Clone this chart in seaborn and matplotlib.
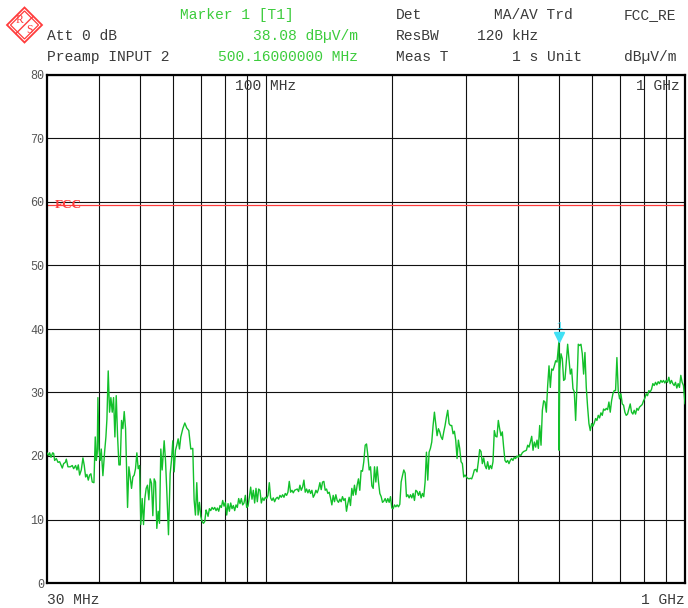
import matplotlib.pyplot as plt
import matplotlib.patches as mpatches
import matplotlib.lines as mlines
import matplotlib.transforms as mtransforms
from matplotlib.ticker import FixedLocator, NullLocator
import pandas as pd
import seaborn as sns

# Sweep (MHz, dBuV/m)
freq_mhz = [
    30.00, 30.28, 30.44, 30.67, 30.95, 31.12, 31.29, 31.58, 31.87, 32.16,
    32.40, 32.63, 32.87, 33.18, 33.36, 33.66, 34.10, 34.47, 34.73, 35.11,
    35.37, 35.63, 35.89, 36.22, 36.55, 36.82, 37.09, 37.36, 37.64, 37.91,
    38.19, 38.47, 38.83, 39.11, 39.33, 39.54, 39.69, 39.91, 40.20, 40.42,
    40.79, 41.17, 41.47, 41.70, 42.00, 42.31, 42.62, 42.94, 43.25, 43.57,
    43.89, 44.21, 44.54, 44.86, 45.19, 45.52, 45.86, 46.20, 46.71, 47.05,
    47.39, 47.74, 48.09, 48.45, 48.80, 49.16, 49.52, 49.89, 50.25, 50.62,
    50.99, 51.37, 51.74, 52.12, 52.51, 52.89, 53.28, 53.67, 54.07, 54.46,
    54.86, 55.27, 55.67, 56.08, 56.49, 57.12, 57.54, 57.96, 58.49, 59.03,
    59.46, 59.90, 60.34, 60.78, 61.23, 61.68, 62.13, 62.59, 63.28, 63.98,
    64.68, 65.40, 66.12, 66.85, 67.34, 67.83, 68.33, 68.83, 69.34, 69.85,
    70.36, 70.88, 71.40, 71.92,
    72.18, 72.71, 73.24, 73.78, 74.32, 74.87, 75.42, 75.97, 76.53, 77.09,
    77.66, 78.23, 78.80, 79.38, 79.96, 80.55, 81.14, 81.74, 82.34, 82.94,
    83.55, 84.16, 84.78, 85.40, 86.03, 86.66, 87.30, 87.94, 88.59, 89.24,
    89.89, 90.55, 91.22, 91.89, 92.56, 93.24, 93.93, 94.62, 95.31, 96.01,
    96.72, 97.43, 98.14, 98.86, 99.59, 100.32, 101.06, 101.80, 102.55, 103.30,
    104.06, 104.82, 105.59, 106.37, 107.15, 107.94, 108.73, 109.53, 110.33, 111.14,
    111.96, 112.78, 113.61, 114.44, 115.28, 116.13, 116.98, 117.84, 118.71, 119.58,
    120.46, 121.34, 122.23, 123.13, 124.03, 124.94, 125.86, 126.78, 127.71, 128.65,
    129.60, 130.55, 131.51, 132.47, 133.44, 134.42, 135.41, 136.40, 137.40, 138.41,
    139.43, 140.45, 141.48, 142.52, 143.57, 144.62, 145.68, 146.75, 147.83, 148.91,
    150.00, 151.10, 152.21, 153.33, 154.46, 155.59, 156.73, 157.88, 159.04, 160.21,
    161.39, 162.57, 163.76, 164.96, 166.17, 167.39, 168.62, 169.86, 171.11,
    172.44, 173.71, 174.98, 176.27, 177.56, 178.87, 180.18, 181.50, 182.84, 184.18,
    185.53, 186.89, 188.27, 189.65, 191.04, 192.45, 193.86, 195.28, 196.72, 198.16,
    199.62, 201.08, 202.56, 204.05, 205.54, 207.05, 208.57, 210.11, 211.65, 213.20,
    214.77, 216.35, 217.94, 219.54, 221.15, 222.77, 224.41, 226.06, 227.72, 229.39,
    231.07, 232.77, 234.48, 236.20, 237.93, 239.68, 241.44, 243.21, 245.00, 246.80,
    248.61, 250.44, 252.28, 254.13, 256.00, 257.88, 259.77, 261.68, 263.60, 265.54,
    267.49, 269.45, 271.43, 273.42, 275.43, 277.45, 279.49, 281.54, 283.61, 285.69,
    287.79, 289.90, 292.03, 294.17, 296.33, 298.51, 300.70, 302.91, 305.13, 307.37,
    309.63, 311.90, 314.19, 316.50, 318.82, 321.16, 323.52, 325.90, 328.29, 330.70,
    333.13, 335.58, 338.04, 340.52, 343.02, 345.54, 348.08, 350.63, 353.21, 355.80,
    358.41, 361.04, 363.69, 366.36, 369.05, 371.76, 374.49, 377.24, 380.01, 382.80,
    385.61, 388.44, 391.29, 394.16, 397.06, 399.97, 402.91, 405.87, 408.85, 411.85,
    418.19, 421.26, 424.35, 427.47, 430.61, 433.77, 436.96, 440.17, 443.40, 446.66,
    449.94, 453.24, 456.57, 459.92, 463.30, 466.70, 470.13, 473.58, 477.06, 480.56,
    484.09, 487.65, 491.23, 494.84, 500.16, 500.60, 502.13, 505.82, 509.53, 513.27,
    517.04, 520.84, 524.66, 528.51, 532.39, 536.30, 540.24, 544.21, 548.21, 552.23,
    556.29, 560.37, 564.49, 568.63, 572.81, 577.01, 581.25, 585.52, 589.82, 594.15,
    598.51, 602.91, 607.34, 611.80, 616.29, 620.82, 625.37, 629.97, 634.59, 639.25,
    643.95, 648.68, 653.44, 658.24, 663.07, 667.94, 672.85, 677.79, 682.77, 687.78,
    692.83, 697.92, 703.05, 708.21, 713.41, 718.65, 723.93, 729.24, 734.60, 739.99,
    745.43, 750.90, 756.42, 761.97, 767.57, 773.21, 778.88, 784.60, 790.37, 796.17,
    802.02, 807.91, 813.84, 819.82, 825.84, 831.90, 838.01, 844.17, 850.37, 856.61,
    862.90, 869.24, 875.62, 882.05, 888.53, 895.05, 901.63, 908.25, 914.92, 921.64,
    928.40, 935.22, 942.09, 949.01, 955.98, 963.00, 970.07, 977.19, 984.37, 991.60,
    1000.00,
]
level_dbuv = [
    20.5, 20.1, 20.5, 19.8, 20.5, 20.4, 19.3, 19.6, 19.0, 19.1,
    18.6, 18.1, 18.8, 19.0, 19.5, 18.3, 18.3, 18.5, 18.0, 18.5,
    17.8, 18.6, 17.0, 17.8, 19.7, 18.5, 16.7, 17.1, 16.2, 17.0,
    17.2, 15.9, 15.8, 23.0, 19.3, 20.4, 29.2, 21.1, 19.3, 21.1,
    16.9, 20.6, 23.0, 25.8, 33.4, 26.9, 29.2, 26.9, 29.2, 23.0,
    29.5, 23.2, 18.6, 18.6, 25.6, 24.3, 27.0, 24.3, 11.9, 18.3,
    16.7, 14.9, 16.7, 17.0, 18.0, 20.5, 18.0, 18.5, 9.2, 13.3,
    9.2, 13.3, 14.9, 15.4, 13.1, 16.4, 15.7, 10.6, 16.4, 15.9,
    8.6, 11.3, 9.4, 21.1, 17.8, 22.4, 19.3, 14.4, 7.6, 17.2,
    19.3, 22.4, 17.5, 20.9, 21.7, 22.7, 21.1, 23.0, 24.3, 25.2,
    24.4, 24.0, 21.1, 21.2, 13.1, 10.7, 15.8, 10.7, 12.7, 10.5,
    9.7, 9.4, 9.7, 11.5,
    11.2, 10.5, 11.7, 11.4, 11.9, 11.6, 11.9, 11.4, 11.8, 11.3,
    12.2, 11.9, 13.0, 12.1, 12.7, 10.7, 12.5, 11.3, 12.6, 11.7,
    12.2, 11.4, 12.3, 11.9, 13.3, 12.5, 13.3, 12.3, 12.6, 13.8,
    11.9, 12.1, 13.5, 15.1, 13.2, 14.6, 12.6, 14.9, 12.8, 14.8,
    14.6, 12.6, 13.4, 13.0, 13.5, 13.3, 13.8, 15.8, 13.4, 13.0,
    13.4, 12.8, 13.3, 13.5, 13.2, 13.8, 13.5, 13.9, 13.5, 14.1,
    13.8, 14.3, 16.0, 14.3, 14.6, 14.2, 14.6, 14.7, 14.8, 14.4,
    15.4, 14.6, 15.1, 16.2, 14.3, 14.8, 14.2, 14.7, 14.1, 14.6,
    13.5, 13.9, 14.6, 14.2, 14.8, 15.8, 14.7, 15.9, 16.0, 14.6,
    14.8, 14.1, 14.3, 13.4, 12.3, 13.8, 12.8, 13.9, 13.0, 12.7,
    13.2, 12.8, 13.6, 13.0, 13.3, 11.3, 12.5, 13.5, 12.2, 14.9,
    13.8, 15.4, 13.9, 15.4, 16.4, 14.6, 17.7, 17.6, 19.1,
    21.7, 21.9, 20.1, 17.8, 18.3, 15.3, 14.9, 18.3, 15.9, 18.3,
    15.9, 14.1, 13.6, 12.7, 12.9, 13.3, 12.7, 13.3, 12.7, 13.6,
    11.8, 11.7, 12.3, 12.0, 12.3, 12.0, 12.4, 15.9, 16.9, 17.8,
    17.3, 13.6, 13.9, 13.4, 13.9, 13.4, 14.1, 13.0, 14.6, 14.4,
    13.8, 14.4, 13.4, 14.1, 13.6, 15.9, 20.6, 16.2, 20.6, 21.2,
    22.2, 24.8, 26.9, 25.1, 23.2, 24.3, 23.8, 23.0, 22.6, 23.8,
    24.8, 26.1, 27.2, 25.1, 24.8, 24.8, 23.5, 23.9, 22.5, 19.6,
    22.5, 21.2, 19.1, 18.8, 16.7, 17.0, 16.7, 16.5, 16.4, 16.5,
    16.4, 17.0, 17.8, 17.9, 17.5, 19.1, 21.0, 20.7, 18.8, 19.7,
    18.5, 18.0, 19.1, 17.9, 18.5, 18.0, 19.1, 24.0, 23.1, 23.0,
    25.6, 24.3, 23.2, 23.8, 21.4, 19.3, 19.0, 19.3, 18.8, 19.3,
    19.6, 19.3, 19.8, 19.6, 20.0, 19.8, 20.2, 20.1, 20.5, 20.7,
    20.9, 21.7, 21.4, 22.2, 23.1, 20.9, 22.2, 21.4, 22.5, 21.2,
    24.8, 21.7, 27.2, 28.7, 28.5, 26.9, 31.1, 34.2, 30.8, 33.7,
    33.5, 34.2, 35.0, 34.8, 38.08, 20.9, 33.5, 36.1, 35.3, 31.9,
    32.1, 34.8, 37.6, 35.3, 32.9, 33.7, 30.6, 30.1, 25.6, 31.1,
    37.6, 37.4, 37.6, 36.1, 32.9, 36.3, 30.8, 27.7, 25.1, 24.0,
    25.1, 24.7, 25.2, 25.9, 25.6, 26.4, 26.0, 26.8, 26.4, 27.4,
    27.2, 27.5, 27.3, 28.5, 26.9, 28.7, 29.8, 30.3, 30.3, 35.5,
    30.3, 29.0, 29.8, 28.2, 28.0, 26.9, 26.4, 26.6, 27.4, 28.2,
    26.9, 26.6, 27.2, 26.6, 27.5, 27.2, 27.7, 27.9, 28.1, 28.7,
    29.1, 29.8, 29.5, 30.3, 30.1, 30.5, 31.4, 31.1, 31.6, 31.2,
    31.7, 31.4, 31.9, 31.6, 31.9, 31.5, 31.9, 31.6, 32.4, 31.4,
    31.9, 31.4, 31.1, 31.6, 30.7, 31.4, 30.8, 32.7, 31.6, 31.1,
    28.2,
]

fcc_limit = 59.6
marker_freq = 500.16
marker_level = 38.08
grid_freqs = [40, 50, 60, 70, 80, 90, 100, 200, 300, 400, 500, 600, 700, 800, 900]
y_ticks = [0, 10, 20, 30, 40, 50, 60, 70, 80]

W, H = 688, 608
TRACE = '#12c02a'
HEAD_GREEN = '#3ccc3c'
HEAD_GRAY = '#3a3a3a'
CYAN = '#40e0f4'
RED = '#ff3c3c'


def px(x, y):
    # screen pixel -> figure fraction
    return x / W, 1 - y / H


sns.set_style("white")
plt.rcParams['font.family'] = ['Liberation Mono', 'DejaVu Sans Mono']

fig = plt.figure(figsize=(W / 100, H / 100), dpi=100)
ax = fig.add_axes([47 / W, 1 - 583 / H, (685 - 47) / W, (583 - 75) / H])

df = pd.DataFrame({'freq': freq_mhz, 'level': level_dbuv})
sns.lineplot(data=df, x='freq', y='level', ax=ax, color=TRACE, lw=1.0,
             estimator=None, sort=False, zorder=3)

ax.axhline(fcc_limit, color=RED, lw=0.9, zorder=2)
ax.text(0.012, fcc_limit, 'FCC', color=RED, fontsize=9.5, fontweight='bold',
        va='center', ha='left', transform=mtransforms.blended_transform_factory(ax.transAxes, ax.transData),
        family=['Liberation Serif', 'DejaVu Serif'], zorder=4)

# marker 1
tri_off = mtransforms.ScaledTranslation(0, 0.045, fig.dpi_scale_trans)
ax.plot([marker_freq], [marker_level], marker='v', ms=6.5, color=CYAN, ls='none',
        transform=ax.transData + tri_off, zorder=5)
ax.annotate('1', (marker_freq, marker_level), xytext=(0, 11), textcoords='offset points',
            ha='center', va='center', color=CYAN, fontsize=7, zorder=5)

ax.set_xscale('log')
ax.set_xlim(30, 1000)
ax.set_ylim(0, 80)
ax.xaxis.set_major_locator(FixedLocator(grid_freqs))
ax.xaxis.set_minor_locator(NullLocator())
ax.set_yticks(y_ticks)
ax.tick_params(axis='x', length=0, labelbottom=False)
ax.tick_params(axis='y', length=0, pad=2, labelsize=8.5, labelcolor='#555555')
ax.grid(True, color='#111111', lw=0.8)
ax.set_xlabel('')
ax.set_ylabel('')
for s in ax.spines.values():
    s.set_color('black')
    s.set_linewidth(1.6)

top = mtransforms.blended_transform_factory(ax.transData, ax.transAxes)
ax.text(100, 0.978, '100 MHz', transform=top, ha='center', va='center',
        fontsize=10.5, color=HEAD_GRAY)
ax.annotate('1 GHz', (1000, 0.978), xycoords=top, xytext=(-4, 0), textcoords='offset points',
            ha='right', va='center', fontsize=10.5, color=HEAD_GRAY)

fig.text(*px(47, 600), '30 MHz', ha='left', va='center', fontsize=10.5, color=HEAD_GRAY)
fig.text(*px(685, 600), '1 GHz', ha='right', va='center', fontsize=10.5, color=HEAD_GRAY)

# header block
hdr = dict(va='center', fontsize=10.5)
fig.text(*px(180, 15), 'Marker 1 [T1]', color=HEAD_GREEN, **hdr)
fig.text(*px(358, 36), f'{marker_level:.2f} dBµV/m', color=HEAD_GREEN, ha='right', **hdr)
fig.text(*px(358, 57), f'{marker_freq:.8f} MHz', color=HEAD_GREEN, ha='right', **hdr)
fig.text(*px(47, 36), 'Att 0 dB', color=HEAD_GRAY, **hdr)
fig.text(*px(47, 57), 'Preamp INPUT 2', color=HEAD_GRAY, **hdr)
fig.text(*px(396, 15), 'Det', color=HEAD_GRAY, **hdr)
fig.text(*px(494, 15), 'MA/AV Trd', color=HEAD_GRAY, **hdr)
fig.text(*px(624, 15), 'FCC_RE', color=HEAD_GRAY, **hdr)
fig.text(*px(396, 36), 'ResBW', color=HEAD_GRAY, **hdr)
fig.text(*px(477, 36), '120 kHz', color=HEAD_GRAY, **hdr)
fig.text(*px(396, 57), 'Meas T', color=HEAD_GRAY, **hdr)
fig.text(*px(512, 57), '1 s Unit', color=HEAD_GRAY, **hdr)
fig.text(*px(624, 57), 'dBµV/m', color=HEAD_GRAY, **hdr)

# R&S logo
cx, cy, r = 24.5, 25.0, 17.5
outer = [px(cx, cy - r), px(cx + r, cy), px(cx, cy + r), px(cx - r, cy)]
inner = [px(cx, cy - r + 3.5), px(cx + r - 3.5, cy), px(cx, cy + r - 3.5), px(cx - r + 3.5, cy)]
fig.add_artist(mpatches.Polygon(outer, closed=True, fill=False, ec=RED, lw=1.3,
                                transform=fig.transFigure))
fig.add_artist(mpatches.Polygon(inner, closed=True, fill=False, ec=RED, lw=0.9,
                                transform=fig.transFigure))
a, b = px(cx + r / 2, cy - r / 2), px(cx - r / 2, cy + r / 2)
fig.add_artist(mlines.Line2D([a[0], b[0]], [a[1], b[1]], color=RED, lw=1.0,
                             transform=fig.transFigure))
fig.text(*px(cx - 5, cy - 5), 'R', color=RED, fontsize=8.5, ha='center', va='center',
         family=['Liberation Serif', 'DejaVu Serif'])
fig.text(*px(cx + 5, cy + 5), 'S', color=RED, fontsize=8.5, ha='center', va='center',
         family=['Liberation Serif', 'DejaVu Serif'])

fig.savefig('out.png', dpi=100)
